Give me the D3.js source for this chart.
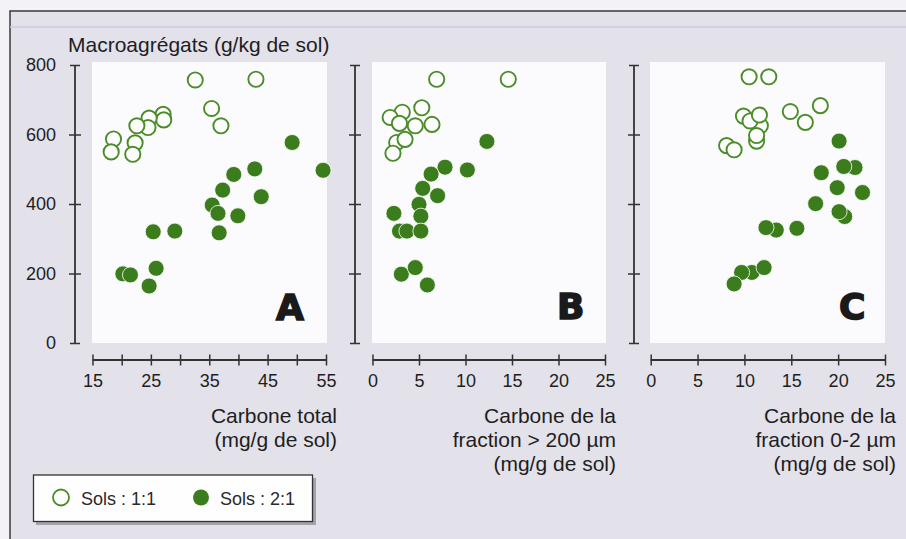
<!DOCTYPE html>
<html><head><meta charset="utf-8">
<script src="https://cdn.jsdelivr.net/npm/d3@7"></script>
<style>
html,body{margin:0;padding:0;background:#f3f2f6;}
svg{display:block;font-family:"Liberation Sans",Arial,sans-serif;}
</style></head>
<body>
<script>
// ---- DATA ----
const yTicks = [0, 200, 400, 600, 800];
const xTicksA = [15, 20, 25, 30, 35, 40, 45, 50, 55];
const xLabelsA = [15, 25, 35, 45, 55];
const xTicksBC = [0, 5, 10, 15, 20, 25];
const yTitle = "Macroagrégats (g/kg de sol)";
const seriesNames = ["Sols : 1:1", "Sols : 2:1"];
const panelLetters = ["A", "B", "C"];
const xTitles = [
  ["Carbone total", "(mg/g de sol)"],
  ["Carbone de la", "fraction > 200 µm", "(mg/g de sol)"],
  ["Carbone de la", "fraction 0-2 µm", "(mg/g de sol)"]
];
// Panel A: carbone total
const a11 = [[32.6,757],[43.0,759],[35.4,675],[37.0,625],[27.1,658],[27.2,642],[24.7,647],[24.5,620],[22.6,625],[22.3,576],[21.9,543],[18.6,587],[18.2,550]];
const a21 = [[49.2,577],[54.5,497],[42.8,501],[39.2,485],[37.3,440],[43.9,421],[35.5,397],[36.5,373],[39.9,366],[36.7,317],[25.4,320],[29.1,322],[20.2,199],[21.5,196],[25.9,215],[24.7,164]];
// Panel B: fraction > 200 µm
const b11 = [[6.9,759],[14.6,759],[5.3,677],[3.2,664],[1.9,649],[2.9,632],[4.6,625],[6.4,629],[2.6,577],[3.5,586],[2.2,546]];
const b21 = [[12.3,580],[7.8,506],[10.2,498],[6.3,486],[5.4,445],[7.0,424],[5.0,399],[5.2,365],[2.3,373],[2.9,322],[3.7,322],[5.2,322],[3.1,198],[4.6,217],[5.9,167]];
// Panel C: fraction 0-2 µm
const c11 = [[10.5,766],[12.6,766],[18.1,683],[14.9,666],[16.5,635],[9.9,653],[11.7,625],[10.6,639],[11.6,656],[11.3,581],[11.3,597],[8.1,568],[8.9,556]];
const c21 = [[20.1,581],[21.8,505],[20.6,508],[18.2,490],[19.9,447],[22.6,433],[17.6,401],[20.7,364],[20.1,378],[13.4,325],[12.3,332],[15.6,330],[10.8,203],[9.7,203],[12.1,217],[8.9,170]];

// ---- LAYOUT ----
const W = 906, H = 539;
const green = "#3b7d1c", greenLine = "#4a8c28";
const svg = d3.select("body").append("svg").attr("width", W).attr("height", H);

svg.append("rect").attr("x", 0).attr("y", 0).attr("width", W).attr("height", H).attr("fill", "#f3f2f6");
svg.append("rect").attr("x", 10).attr("y", 11).attr("width", W + 20).attr("height", H + 20)
  .attr("fill", "#e3e1ea").attr("stroke", "#3a3a3a").attr("stroke-width", 1.5);
svg.append("line").attr("x1", 10).attr("x2", W).attr("y1", 27).attr("y2", 27)
  .attr("stroke", "#c6cde2").attr("stroke-width", 1.5);

const y = d3.scaleLinear().domain([0, 800]).range([343, 65]);

const panels = [
  {x: d3.scaleLinear().domain([15, 55]).range([92.5, 326]), axisX: 75, ticks: xTicksA, labels: xLabelsA, open: a11, full: a21, plot: [92, 327], titleX: 337, letterX: 276, letterY: 320},
  {x: d3.scaleLinear().domain([0, 25]).range([372.5, 605]), axisX: 355, ticks: xTicksBC, labels: xTicksBC, open: b11, full: b21, plot: [372, 606], titleX: 616, letterX: 557, letterY: 319},
  {x: d3.scaleLinear().domain([0, 25]).range([650.7, 885]), axisX: 634, ticks: xTicksBC, labels: xTicksBC, open: c11, full: c21, plot: [650, 885], titleX: 896, letterX: 839, letterY: 319}
];

svg.append("text").attr("x", 68).attr("y", 52).attr("font-size", 21).attr("fill", "#1e1e1e").text(yTitle);

panels.forEach((p, i) => {
  svg.append("rect").attr("x", p.plot[0]).attr("y", 62).attr("width", p.plot[1] - p.plot[0]).attr("height", 281)
    .attr("fill", "#fbfafd");

  const ya = svg.append("g").attr("transform", `translate(${p.axisX},0)`)
    .call(d3.axisLeft(y).tickValues(yTicks).tickSize(6).tickPadding(13).tickFormat(i === 0 ? d3.format("d") : () => ""));
  ya.select(".domain").remove();
  ya.selectAll(".tick line").attr("x1", -6).attr("x2", 6).attr("stroke", "#333").attr("stroke-width", 1.5);
  ya.selectAll(".tick").filter(d => d === 0 || d === 800).select("line").attr("x1", -5).attr("x2", 5);
  ya.selectAll(".tick text").attr("font-size", 18).attr("fill", "#1e1e1e").attr("font-family", "Liberation Sans, Arial, sans-serif");
  ya.append("line").attr("x1", 0).attr("x2", 0).attr("y1", y(0)).attr("y2", y(800)).attr("stroke", "#333").attr("stroke-width", 1.8);

  const xa = svg.append("g").attr("transform", "translate(0,360)")
    .call(d3.axisBottom(p.x).tickValues(p.ticks).tickSize(5.5).tickFormat(d => p.labels.includes(d) ? d : ""));
  xa.select(".domain").remove();
  xa.selectAll(".tick line").attr("y1", -5.5).attr("y2", 5.5).attr("stroke", "#333").attr("stroke-width", 1.5);
  xa.selectAll(".tick text").attr("y", 14.5).attr("font-size", 18).attr("fill", "#1e1e1e").attr("font-family", "Liberation Sans, Arial, sans-serif");
  xa.append("line").attr("x1", p.x.range()[0]).attr("x2", p.x.range()[1]).attr("y1", 0).attr("y2", 0)
    .attr("stroke", "#333").attr("stroke-width", 1.8);

  const t = svg.append("text").attr("text-anchor", "end").attr("font-size", 21).attr("fill", "#1e1e1e");
  xTitles[i].forEach((line, k) => {
    t.append("tspan").attr("x", p.titleX).attr("y", 423 + k * 24).text(line);
  });

  svg.append("g").selectAll("circle").data(p.open).join("circle")
    .attr("cx", d => p.x(d[0])).attr("cy", d => y(d[1])).attr("r", 7.6)
    .attr("fill", "#fdfdfd").attr("stroke", greenLine).attr("stroke-width", 1.9);
  svg.append("g").selectAll("circle").data(p.full).join("circle")
    .attr("cx", d => p.x(d[0])).attr("cy", d => y(d[1])).attr("r", 8)
    .attr("fill", green).attr("stroke", "#ffffff").attr("stroke-width", 0.8);

  svg.append("text").attr("x", p.letterX).attr("y", p.letterY)
    .attr("font-family", "DejaVu Sans, sans-serif").attr("font-weight", "bold").attr("font-size", 36)
    .attr("fill", "#1a1a1a").attr("stroke", "#1a1a1a").attr("stroke-width", 1.6)
    .text(panelLetters[i]);
});

// legend
svg.append("rect").attr("x", 36).attr("y", 478).attr("width", 280).attr("height", 47).attr("fill", "#8a8890").attr("opacity", 0.7);
svg.append("rect").attr("x", 33.5).attr("y", 475).attr("width", 279).attr("height", 46.5)
  .attr("fill", "#fefefe").attr("stroke", "#333").attr("stroke-width", 1.3);
svg.append("circle").attr("cx", 61).attr("cy", 497.5).attr("r", 8).attr("fill", "#fefefe")
  .attr("stroke", greenLine).attr("stroke-width", 1.8);
svg.append("circle").attr("cx", 201).attr("cy", 497.5).attr("r", 8).attr("fill", green);
svg.append("text").attr("x", 81).attr("y", 505).attr("font-size", 18).attr("fill", "#2a2a2a").text(seriesNames[0]);
svg.append("text").attr("x", 220).attr("y", 505).attr("font-size", 18).attr("fill", "#2a2a2a").text(seriesNames[1]);
</script>
</body></html>
